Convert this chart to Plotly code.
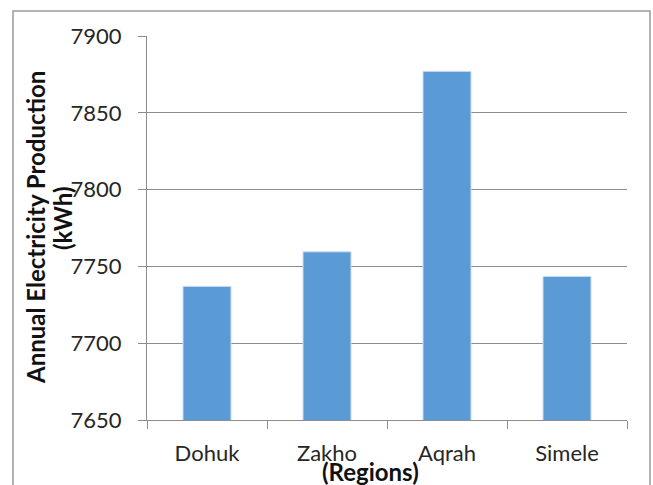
import plotly.graph_objects as go

regions = ["Dohuk", "Zakho", "Aqrah", "Simele"]
production = [7737, 7759.5, 7877, 7743.5]
y_ticks = [7650, 7700, 7750, 7800, 7850, 7900]

# page body margin is removed below, so figure pixels == screen pixels
W, H = 653, 485
L, T = 147, 36
R = 653 - 627
B = 485 - 420
pw, ph = W - L - R, H - T - B

def px2paper_x(px):
    return (px - L) / pw

def px2paper_y(py):
    return (H - B - py) / ph

fig = go.Figure(go.Bar(
    x=regions, y=production,
    marker=dict(color="#5B9BD5", line=dict(color="#C9DDF1", width=1)),
    width=0.4,
))

font = "Lato, 'Open Sans', sans-serif"
grid = "#8C8C8C"
tick_font = dict(family=font, size=22, color="#262626")
title_font = dict(family=font, size=24, color="#111111")

fig.update_layout(
    width=W, height=H,
    margin=dict(l=L, r=R, t=T, b=B, pad=0),
    paper_bgcolor="white", plot_bgcolor="white",
    showlegend=False,
    font=tick_font,
    xaxis=dict(
        type="category", tickson="boundaries", ticks="outside", ticklen=8,
        tickcolor=grid, showline=True, linecolor=grid, linewidth=1,
        showgrid=False, tickfont=tick_font, ticklabelstandoff=14,
    ),
    yaxis=dict(
        range=[7650, 7900], tickvals=y_ticks, ticks="outside", ticklen=8,
        tickcolor=grid, showline=True, linecolor=grid, linewidth=1,
        showgrid=True, gridcolor=grid, gridwidth=1, zeroline=False,
        tickfont=tick_font, ticklabelstandoff=12,
    ),
    annotations=[
        dict(text="<b>Annual Electricity Production</b>",
             xref="paper", yref="paper", x=px2paper_x(35), y=px2paper_y(228),
             xanchor="center", yanchor="middle", textangle=-90, showarrow=False,
             font=title_font),
        dict(text="<b>(kWh)</b>",
             xref="paper", yref="paper", x=px2paper_x(62), y=px2paper_y(218),
             xanchor="center", yanchor="middle", textangle=-90, showarrow=False,
             font=title_font),
        dict(text="<b>(Regions)</b>",
             xref="paper", yref="paper", x=px2paper_x(370), y=px2paper_y(471),
             xanchor="center", yanchor="middle", showarrow=False,
             font=title_font),
    ],
    shapes=[
        dict(type="rect", xref="paper", yref="paper",
             x0=px2paper_x(13), x1=px2paper_x(650),
             y0=px2paper_y(500), y1=px2paper_y(11),
             line=dict(color="#9A9A9A", width=1.5), layer="below"),
    ],
)

fig.write_html(
    "out.html",
    config={"displayModeBar": False},
    post_script="document.body.style.margin='0';document.body.style.overflow='hidden';",
)
